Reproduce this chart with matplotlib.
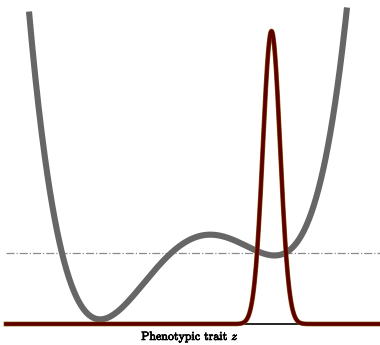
import numpy as np
import matplotlib
matplotlib.use("Agg")
import matplotlib.pyplot as plt
import matplotlib.patheffects as pe

plt.rcParams['mathtext.fontset'] = 'cm'
plt.rcParams['axes.formatter.use_mathtext'] = True

# fitness landscape, points (trait z, height)
pot_z = [-1.61, -1.53, -1.38, -1.28, -1.17, -0.90, -0.50, -0.20, 0.17, 0.50, 0.82, 1.07, 1.28, 1.45, 1.57]
pot_v = [3.16, 2.24, 1.24, 0.71, 0.37, 0.01, 0.37, 0.71, 0.90, 0.79, 0.66, 0.91, 1.24, 2.24, 3.16]

# trait distribution
dist_mean = 0.815
dist_sd = 0.086
dist_peak = 2.93

threshold = 0.71
z_min, z_max = -1.84, 1.90

fig = plt.figure(figsize=(3.8, 3.45), dpi=100)
ax = fig.add_axes([0, 0, 1, 1])
ax.set_xlim(-1.90, 1.90)
ax.set_ylim(-0.21, 3.24)
ax.axis('off')

# smooth landscape through the read points
coef = np.polyfit(pot_z, pot_v, 6)
zz = np.linspace(pot_z[0], pot_z[-1], 400)
ax.plot(zz, np.polyval(coef, zz), color='#666666', lw=4.4, solid_capstyle='butt', zorder=2)

ax.plot([z_min, z_max], [threshold, threshold], color='#8c8c8c', lw=0.9, ls='-.', zorder=1)
ax.plot([z_min, z_max], [0, 0], color='black', lw=1.2, zorder=3)

z = np.linspace(z_min, z_max, 800)
dens = dist_peak * np.exp(-0.5 * ((z - dist_mean) / dist_sd) ** 2)
ax.plot(z, dens, color='#8a5a14', lw=3.4, zorder=4)
ax.plot(z, dens, color='#5e0000', lw=2.6, zorder=5)

t = ax.text(0.0, -0.13, r'Phenotypic trait $z$', family='cmr10', fontsize=8.6,
            ha='center', va='center')
t.set_path_effects([pe.withStroke(linewidth=0.5, foreground='black')])

fig.savefig('out.png', dpi=100)
